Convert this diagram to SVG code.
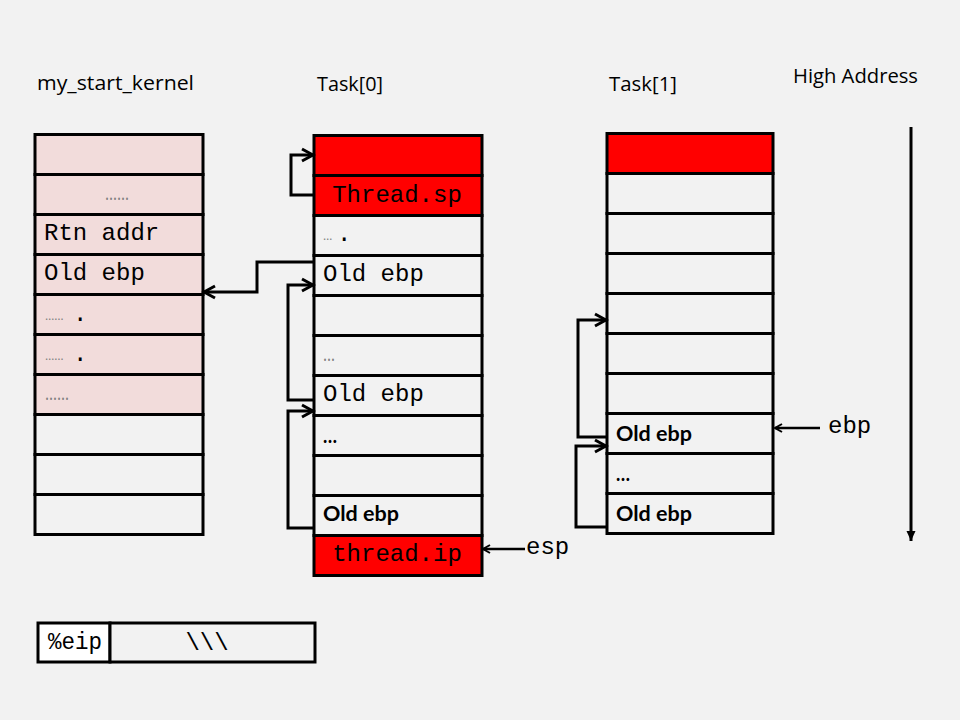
<svg xmlns="http://www.w3.org/2000/svg" width="960" height="720" viewBox="0 0 960 720">
<style>
.cell{stroke:#000;stroke-width:3}
.bg{fill:#f2f2f2}
.pk{fill:#f2dcdb}
.rd{fill:#ff0000}
.wt{fill:#ffffff}
.title{font-family:"Open Sans",Lato,sans-serif;font-size:20px;fill:#000}
.mono{font-family:"Liberation Mono","Courier New",monospace;font-size:24px;fill:#000}
.dots{font-family:"Open Sans",Lato,sans-serif;font-size:20px;fill:#7f7f7f}
.sd{font-family:"Open Sans",Lato,sans-serif;font-size:12px;fill:#7f7f7f}
.pd{font-family:"Liberation Mono","Courier New",monospace;font-size:24px;fill:#000}
.bold{font-family:Lato,"Open Sans",sans-serif;font-size:21px;font-weight:bold;fill:#000}
.conn{fill:none;stroke:#000;stroke-width:3}
.thin{fill:none;stroke:#000;stroke-width:2.5}
</style>
<defs>
<marker id="arr" markerUnits="userSpaceOnUse" markerWidth="16" markerHeight="16" refX="13" refY="8" orient="auto">
<path d="M2,2 L13,8 L2,14" fill="none" stroke="#000" stroke-width="3"/>
</marker>
<marker id="arrs" markerUnits="userSpaceOnUse" markerWidth="12" markerHeight="12" refX="10" refY="6" orient="auto">
<path d="M3,2 L10,6 L3,10" fill="none" stroke="#000" stroke-width="2"/>
</marker>
<marker id="tri" markerUnits="userSpaceOnUse" markerWidth="12" markerHeight="12" refX="10" refY="6" orient="auto">
<path d="M0,1.5 L10,6 L0,10.5 Z" fill="#000"/>
</marker>
</defs>
<rect x="0" y="0" width="960" height="720" fill="#f2f2f2"/>

<text class="title" x="37" y="90" textLength="157" lengthAdjust="spacingAndGlyphs">my_start_kernel</text>
<text class="title" x="317" y="91" textLength="66" lengthAdjust="spacingAndGlyphs">Task[0]</text>
<text class="title" x="609" y="91" textLength="68" lengthAdjust="spacingAndGlyphs">Task[1]</text>
<text class="title" x="793" y="83" textLength="125" lengthAdjust="spacingAndGlyphs">High Address</text>

<g id="my_start_kernel">
<rect class="cell pk" x="35" y="134.5" width="168" height="40"/>
<rect class="cell pk" x="35" y="174.5" width="168" height="40"/>
<rect class="cell pk" x="35" y="214.5" width="168" height="40"/>
<rect class="cell pk" x="35" y="254.5" width="168" height="40"/>
<rect class="cell pk" x="35" y="294.5" width="168" height="40"/>
<rect class="cell pk" x="35" y="334.5" width="168" height="40"/>
<rect class="cell pk" x="35" y="374.5" width="168" height="40"/>
<rect class="cell bg" x="35" y="414.5" width="168" height="40"/>
<rect class="cell bg" x="35" y="454.5" width="168" height="40"/>
<rect class="cell bg" x="35" y="494.5" width="168" height="40"/>
<text class="dots" x="105" y="200" textLength="24" lengthAdjust="spacingAndGlyphs">……</text>
<text class="mono" x="44" y="240">Rtn addr</text>
<text class="mono" x="44" y="280">Old ebp</text>
<text class="sd" x="45" y="320">……<tspan class="pd" x="73" y="321">.</tspan></text>
<text class="sd" x="45" y="360">……<tspan class="pd" x="73" y="361">.</tspan></text>
<text class="dots" x="45" y="400" textLength="24" lengthAdjust="spacingAndGlyphs">……</text>
</g>

<g id="task0">
<rect class="cell rd" x="314" y="135.5" width="168" height="40"/>
<rect class="cell rd" x="314" y="175.5" width="168" height="40"/>
<rect class="cell bg" x="314" y="215.5" width="168" height="40"/>
<rect class="cell bg" x="314" y="255.5" width="168" height="40"/>
<rect class="cell bg" x="314" y="295.5" width="168" height="40"/>
<rect class="cell bg" x="314" y="335.5" width="168" height="40"/>
<rect class="cell bg" x="314" y="375.5" width="168" height="40"/>
<rect class="cell bg" x="314" y="415.5" width="168" height="40"/>
<rect class="cell bg" x="314" y="455.5" width="168" height="40"/>
<rect class="cell bg" x="314" y="495.5" width="168" height="40"/>
<rect class="cell rd" x="314" y="535.5" width="168" height="40"/>
<text class="mono" x="397" y="202" text-anchor="middle">Thread.sp</text>
<text class="sd" x="323" y="240">…<tspan class="pd" x="337" y="241">.</tspan></text>
<text class="mono" x="323" y="281">Old ebp</text>
<text class="dots" x="323" y="361" textLength="12" lengthAdjust="spacingAndGlyphs">…</text>
<text class="mono" x="323" y="401">Old ebp</text>
<text class="bold" x="323" y="443" textLength="14" lengthAdjust="spacingAndGlyphs">…</text>
<text class="bold" x="323" y="521" textLength="76" lengthAdjust="spacingAndGlyphs">Old ebp</text>
<text class="mono" x="397" y="561" text-anchor="middle">thread.ip</text>
</g>

<g id="task1">
<rect class="cell rd" x="607" y="133.5" width="166" height="40"/>
<rect class="cell bg" x="607" y="173.5" width="166" height="40"/>
<rect class="cell bg" x="607" y="213.5" width="166" height="40"/>
<rect class="cell bg" x="607" y="253.5" width="166" height="40"/>
<rect class="cell bg" x="607" y="293.5" width="166" height="40"/>
<rect class="cell bg" x="607" y="333.5" width="166" height="40"/>
<rect class="cell bg" x="607" y="373.5" width="166" height="40"/>
<rect class="cell bg" x="607" y="413.5" width="166" height="40"/>
<rect class="cell bg" x="607" y="453.5" width="166" height="40"/>
<rect class="cell bg" x="607" y="493.5" width="166" height="40"/>
<text class="bold" x="616" y="441" textLength="76" lengthAdjust="spacingAndGlyphs">Old ebp</text>
<text class="bold" x="616" y="481" textLength="14" lengthAdjust="spacingAndGlyphs">…</text>
<text class="bold" x="616" y="521" textLength="76" lengthAdjust="spacingAndGlyphs">Old ebp</text>
</g>

<g id="eip">
<rect class="cell wt" x="38" y="623" width="72" height="39"/>
<rect class="cell bg" x="110" y="623" width="205" height="39"/>
<text class="mono" x="48" y="649" font-size="22" textLength="54" lengthAdjust="spacingAndGlyphs">%eip</text>
<text class="mono" x="207" y="650" text-anchor="middle" font-size="22">\\\</text>
</g>

<g id="labels">
<text class="mono" x="828" y="433">ebp</text>
<text class="mono" x="526" y="554">esp</text>
</g>

<g id="connectors">
<path class="conn" d="M314,195 H291 V155 H313" marker-end="url(#arr)"/>
<path class="conn" d="M314,262 H257 V292 H204" marker-end="url(#arr)"/>
<path class="conn" d="M314,400 H288 V285 H313" marker-end="url(#arr)"/>
<path class="conn" d="M314,528 H288 V411 H313" marker-end="url(#arr)"/>
<path class="conn" d="M606,437 H578 V320 H606" marker-end="url(#arr)"/>
<path class="conn" d="M606,527 H576 V446 H606" marker-end="url(#arr)"/>
<path class="thin" d="M820,428 H775" marker-end="url(#arrs)"/>
<path class="thin" d="M525,549 H483" marker-end="url(#arrs)"/>
<path class="conn" d="M911,127 V541" marker-end="url(#tri)"/>
</g>
</svg>
